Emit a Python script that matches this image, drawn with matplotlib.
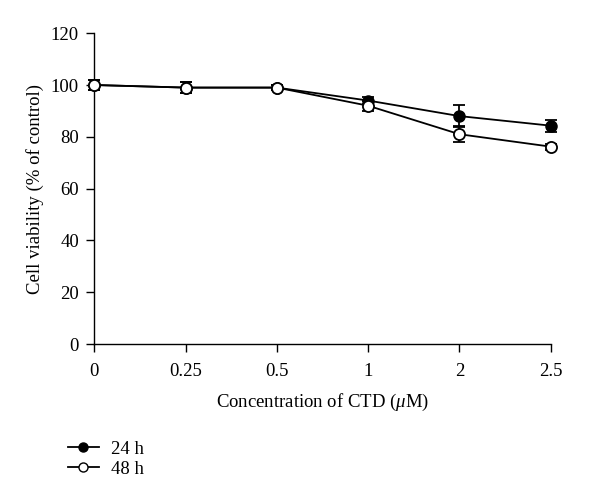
import matplotlib
matplotlib.use("Agg")
import matplotlib.pyplot as plt
from matplotlib.lines import Line2D

categories = ["0", "0.25", "0.5", "1", "2", "2.5"]
v24 = [100, 99, 99, 94, 88, 84.3]
e24 = [1.8, 2.0, 1.0, 1.2, 4.3, 2.3]
v48 = [100, 99, 99, 92, 81, 76.2]
e48 = [1.8, 2.2, 1.0, 2.0, 3.0, 1.2]
yticks = [0, 20, 40, 60, 80, 100, 120]

plt.rcParams['font.family'] = ['Liberation Serif', 'DejaVu Serif']
plt.rcParams['mathtext.fontset'] = 'custom'
plt.rcParams['mathtext.it'] = 'Liberation Serif:italic'
plt.rcParams['mathtext.rm'] = 'Liberation Serif'

FS = 13.5
fig = plt.figure(figsize=(6.0, 5.03), dpi=100)
ax = fig.add_axes([0.157, 0.316, 0.761, 0.618])
x = list(range(len(categories)))

ax.errorbar(x, v24, yerr=e24, color='black', marker='o', markersize=8,
            markerfacecolor='black', markeredgecolor='black', lw=1.3,
            capsize=4, elinewidth=1.3, capthick=1.3, zorder=3)
ax.errorbar(x, v48, yerr=e48, color='black', marker='o', markersize=8,
            markerfacecolor='white', markeredgecolor='black', markeredgewidth=1.3,
            lw=1.3, capsize=4, elinewidth=1.3, capthick=1.3, zorder=4)

ax.set_xlim(0, len(categories) - 1)
ax.set_ylim(0, 120)
ax.set_xticks(x)
ax.set_xticklabels(categories)
ax.set_yticks(yticks)
ax.spines['top'].set_visible(False)
ax.spines['right'].set_visible(False)
ax.tick_params(direction='out', length=6, width=1, labelsize=FS)
ax.tick_params(axis='x', pad=8)
ax.tick_params(axis='y', pad=5)
for s in ['left', 'bottom']:
    ax.spines[s].set_linewidth(1)
for art in ax.get_children():
    try:
        art.set_clip_on(False)
    except Exception:
        pass

ax.set_xlabel(r'Concentration of CTD ($\mathit{\mu}$M)', fontsize=FS, labelpad=8)
ax.set_ylabel('Cell viability (% of control)', fontsize=FS, labelpad=5)

h1 = Line2D([], [], color='black', marker='o', markersize=6.5, lw=1.3,
            markerfacecolor='black')
h2 = Line2D([], [], color='black', marker='o', markersize=6.5, lw=1.3,
            markerfacecolor='white')
fig.legend([h1, h2], ['24 h', '48 h'], loc='lower left',
           bbox_to_anchor=(0.10, 0.035), frameon=False, fontsize=FS,
           handlelength=1.7, handletextpad=0.6, labelspacing=0.15,
           borderaxespad=0)

fig.savefig('out.png', dpi=100)
